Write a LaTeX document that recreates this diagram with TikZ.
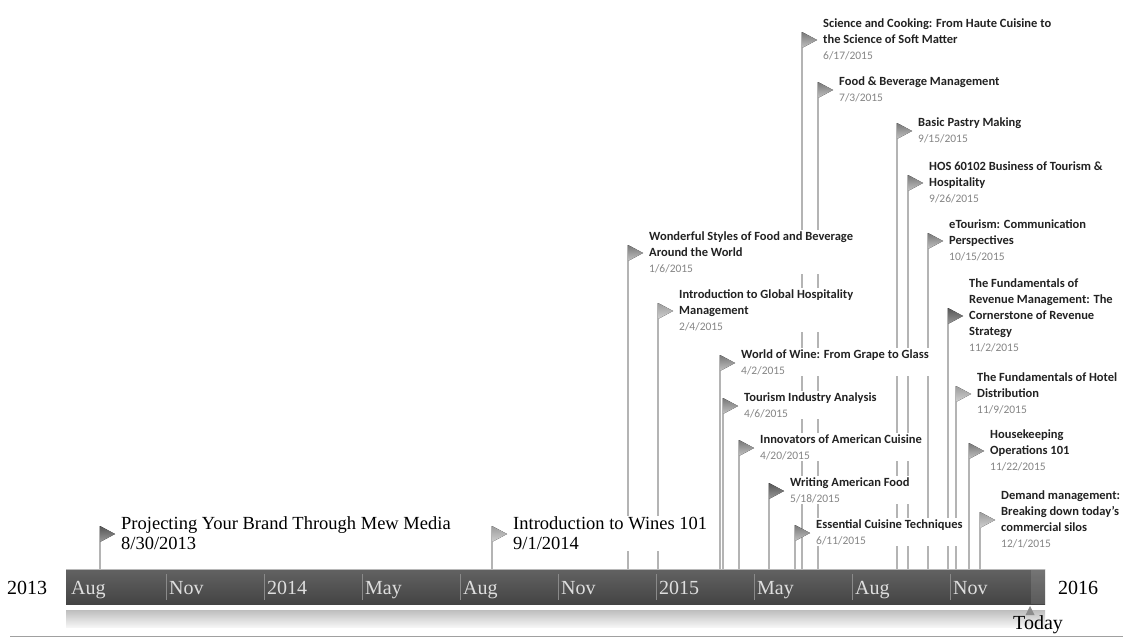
\documentclass[tikz,border=0pt]{standalone}
\usepackage{fontspec}
\setmainfont{Liberation Serif}
\newfontfamily\carl{Carlito}
\usetikzlibrary{calc}
\definecolor{poleC}{HTML}{B4B4B4}
\definecolor{barTop}{HTML}{626262}
\definecolor{barBot}{HTML}{444444}
\definecolor{barTxt}{HTML}{DEDEDE}
\definecolor{sepC}{HTML}{8A8A8A}
\definecolor{titleC}{HTML}{222222}
\definecolor{dateC}{HTML}{858585}
\definecolor{flagTop}{HTML}{787878}
\definecolor{flagBot}{HTML}{C2C2C2}
\definecolor{flagDTop}{HTML}{555555}
\definecolor{flagDBot}{HTML}{9A9A9A}
\definecolor{flagLTop}{HTML}{9C9C9C}
\definecolor{flagLBot}{HTML}{D0D0D0}
\definecolor{shTop}{HTML}{BEBEBE}
\definecolor{shBot}{HTML}{F6F6F6}
\definecolor{lineC}{HTML}{A0A0A0}
\definecolor{todayC}{HTML}{8C8C8C}
\tikzset{
  pole/.style={draw=poleC, line width=1.2pt},
  flagM/.style={top color=flagTop, bottom color=flagBot},
  flagD/.style={top color=flagDTop, bottom color=flagDBot},
  flagL/.style={top color=flagLTop, bottom color=flagLBot},
  lbl/.style={inner sep=1pt, fill=white, anchor=west, align=left, text=titleC,
    font=\carl\bfseries\fontsize{12.5}{16}\selectfont},
  biglbl/.style={inner sep=1pt, fill=white, anchor=west, align=left, text=black,
    font=\fontsize{18.5}{20}\selectfont},
  barlbl/.style={inner sep=0pt, anchor=base west, text=barTxt,
    font=\fontsize{20}{22}\selectfont},
  yearlbl/.style={inner sep=0pt, anchor=base west, text=black,
    font=\fontsize{20}{22}\selectfont},
  sep/.style={draw=sepC, line width=0.8pt},
}
\newcommand\dt[1]{{\color{dateC}\mdseries\fontsize{11.5}{14}\selectfont #1}}
\newcommand\mpole[3]{%
  \coordinate (f#1) at (#2,#3);
  \draw[pole] (f#1) -- (f#1 |- bar.north);
}
\newcommand\mflag[4]{%
  \fill[#2] (f#1) -- ++(15,8) -- ++(-15,8) -- cycle;
  \node[#3] (t#1) at ([shift={(20,7)}]f#1) {#4};
}
\begin{document}
\begin{tikzpicture}[x=1pt,y=-1pt]
\useasboundingbox (0,0) rectangle (1123,637);
\fill[white] (0,0) rectangle (1123,637);
% timeline bar
\node[inner sep=0pt, anchor=north west, minimum width=979pt, minimum height=35pt,
      top color=barTop, bottom color=barBot] (bar) at (66,569) {};
\fill[white, opacity=0.12] (1031,569) rectangle (1045,604);
\draw[white!55!barTop, line width=0.6pt] (66,569.5) -- (1045,569.5);
% reflection bar
\node[inner sep=0pt, anchor=north west, minimum width=979pt, minimum height=17pt,
      top color=shTop, bottom color=shBot] (refl) at (66,610) {};
% base line
\draw[lineC, line width=0.8pt] (10,636) -- (1123,636);
% separators and month labels
\foreach \x in {166,264,362,460,558,656,754,852,950}{
  \draw[sep] (\x,574) -- (\x,600);
}
\node[barlbl] (m1) at (71,594) {Aug};
\node[barlbl] (m2) at (169,594) {Nov};
\node[barlbl] (m3) at (267,594) {2014};
\node[barlbl] (m4) at (365,594) {May};
\node[barlbl] (m5) at (463,594) {Aug};
\node[barlbl] (m6) at (561,594) {Nov};
\node[barlbl] (m7) at (659,594) {2015};
\node[barlbl] (m8) at (757,594) {May};
\node[barlbl] (m9) at (855,594) {Aug};
\node[barlbl] (m10) at (953,594) {Nov};
\node[yearlbl] (y2013) at (7,594) {2013};
\node[yearlbl] (y2016) at (1058,594) {2016};
% today marker
\coordinate (tm) at (1030,606);
\fill[todayC] (tm) -- ++(4.5,9) -- ++(-9,0) -- cycle;
\node[inner sep=0pt, font=\fontsize{20}{22}\selectfont] (today) at (1038,625) {Today};
% poles
\mpole{a}{100}{526}
\mpole{b}{492}{526}
\mpole{1}{628}{245}
\mpole{2}{658}{303}
\mpole{3}{720}{355}
\mpole{4}{723}{398}
\mpole{5}{739}{440}
\mpole{6}{769}{483}
\mpole{7}{795}{525}
\mpole{8}{802}{32}
\mpole{9}{818}{82}
\mpole{10}{897}{123}
\mpole{11}{908}{175}
\mpole{12}{928}{233}
\mpole{13}{948}{308}
\mpole{14}{956}{386}
\mpole{15}{969}{443}
\mpole{16}{980}{512}
% flags and labels
\mflag{a}{flagD}{biglbl}{Projecting Your Brand Through Mew Media\\8/30/2013}
\mflag{b}{flagL}{biglbl}{Introduction to Wines 101\\9/1/2014}
\mflag{1}{flagM}{lbl}{Wonderful Styles of Food and Beverage\\Around the World\\\dt{1/6/2015}}
\mflag{2}{flagL}{lbl}{Introduction to Global Hospitality\\Management\\\dt{2/4/2015}}
\mflag{3}{flagM}{lbl}{World of Wine: From Grape to Glass\\\dt{4/2/2015}}
\mflag{4}{flagM}{lbl}{Tourism Industry Analysis\\\dt{4/6/2015}}
\mflag{5}{flagM}{lbl}{Innovators of American Cuisine\\\dt{4/20/2015}}
\mflag{6}{flagD}{lbl}{Writing American Food\\\dt{5/18/2015}}
\mflag{7}{flagM}{lbl}{Essential Cuisine Techniques\\\dt{6/11/2015}}
\mflag{8}{flagM}{lbl}{Science and Cooking: From Haute Cuisine to\\the Science of Soft Matter\\\dt{6/17/2015}}
\mflag{9}{flagM}{lbl}{Food \& Beverage Management\\\dt{7/3/2015}}
\mflag{10}{flagM}{lbl}{Basic Pastry Making\\\dt{9/15/2015}}
\mflag{11}{flagM}{lbl}{HOS 60102 Business of Tourism \&\\Hospitality\\\dt{9/26/2015}}
\mflag{12}{flagM}{lbl}{eTourism: Communication\\Perspectives\\\dt{10/15/2015}}
\mflag{13}{flagD}{lbl}{The Fundamentals of\\Revenue Management: The\\Cornerstone of Revenue\\Strategy\\\dt{11/2/2015}}
\mflag{14}{flagL}{lbl}{The Fundamentals of Hotel\\Distribution\\\dt{11/9/2015}}
\mflag{15}{flagM}{lbl}{Housekeeping\\Operations 101\\\dt{11/22/2015}}
\mflag{16}{flagL}{lbl}{Demand management:\\Breaking down today’s\\commercial silos\\\dt{12/1/2015}}
\end{tikzpicture}
\end{document}
